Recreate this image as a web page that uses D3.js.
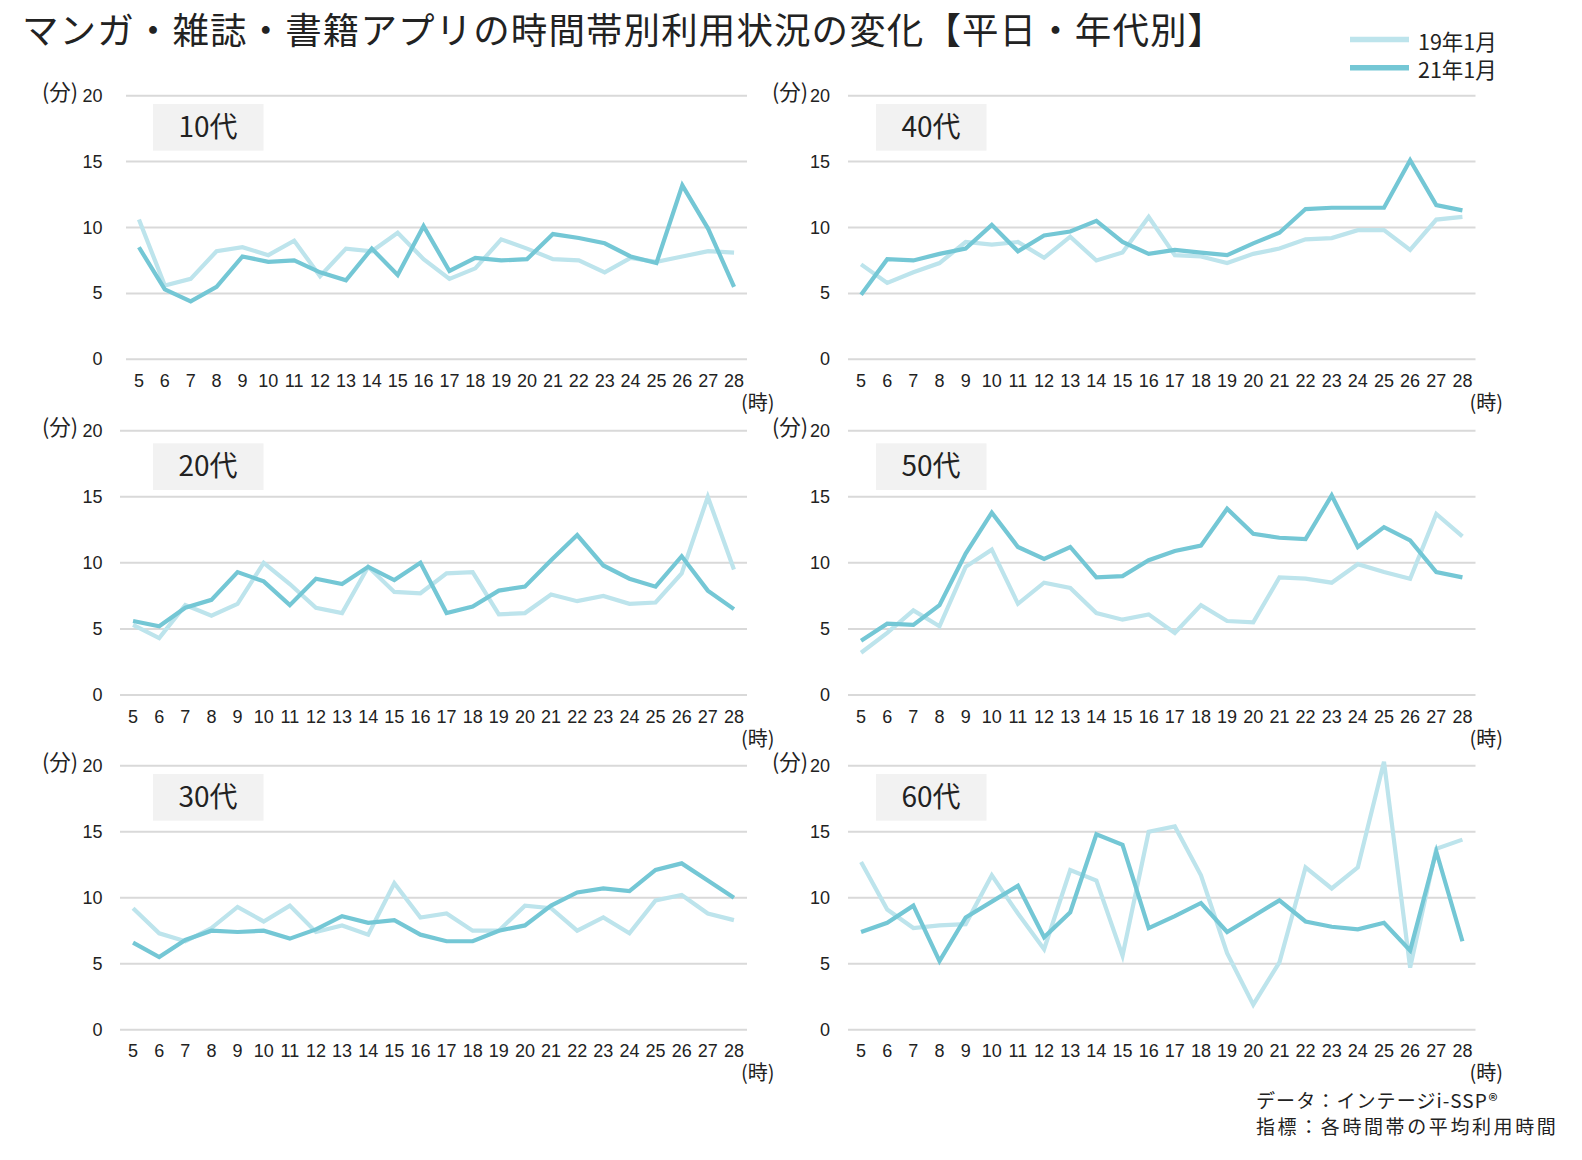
<!DOCTYPE html>
<html><head><meta charset="utf-8">
<script src="https://cdn.jsdelivr.net/npm/d3@7"></script>
<style>
html,body{margin:0;padding:0;background:#fff;}
svg{display:block;font-family:"Noto Sans CJK JP","Noto Sans",sans-serif;}
</style></head>
<body><svg id="chart" width="1582" height="1160"></svg>
<script>
// ---- data ----
const hours = [5,6,7,8,9,10,11,12,13,14,15,16,17,18,19,20,21,22,23,24,25,26,27,28];
const yTicks = [0,5,10,15,20];
const seriesNames = ["19年1月","21年1月"];
const ageLabels = ["10代","40代","20代","50代","30代","60代"];

const age10_19 = [10.6,5.6,6.1,8.2,8.5,7.9,9.0,6.3,8.4,8.2,9.6,7.6,6.1,6.9,9.1,8.4,7.6,7.5,6.6,7.7,7.4,7.8,8.2,8.1];
const age10_21 = [8.5,5.3,4.4,5.5,7.8,7.4,7.5,6.6,6.0,8.4,6.4,10.1,6.7,7.7,7.5,7.6,9.5,9.2,8.8,7.8,7.3,13.2,9.9,5.5];

const age40_19 = [7.2,5.8,6.6,7.3,8.9,8.7,8.9,7.7,9.3,7.5,8.1,10.8,7.9,7.8,7.3,8.0,8.4,9.1,9.2,9.8,9.8,8.3,10.6,10.8];
const age40_21 = [4.9,7.6,7.5,8.0,8.4,10.2,8.2,9.4,9.7,10.5,8.9,8.0,8.3,8.1,7.9,8.8,9.6,11.4,11.5,11.5,11.5,15.1,11.7,11.3];

const age20_19 = [5.3,4.3,6.8,6.0,6.9,10.0,8.4,6.6,6.2,9.7,7.8,7.7,9.2,9.3,6.1,6.2,7.6,7.1,7.5,6.9,7.0,9.2,15.0,9.5];
const age20_21 = [5.6,5.2,6.6,7.2,9.3,8.6,6.8,8.8,8.4,9.7,8.7,10.0,6.2,6.7,7.9,8.2,10.2,12.1,9.8,8.8,8.2,10.5,7.9,6.5];

const age50_19 = [3.2,4.7,6.4,5.2,9.7,11.0,6.9,8.5,8.1,6.2,5.7,6.1,4.7,6.8,5.6,5.5,8.9,8.8,8.5,9.9,9.3,8.8,13.7,12.0];
const age50_21 = [4.1,5.4,5.3,6.8,10.7,13.8,11.2,10.3,11.2,8.9,9.0,10.2,10.9,11.3,14.1,12.2,11.9,11.8,15.1,11.2,12.7,11.7,9.3,8.9];

const age30_19 = [9.2,7.3,6.7,7.7,9.3,8.2,9.4,7.4,7.9,7.2,11.1,8.5,8.8,7.5,7.5,9.4,9.2,7.5,8.5,7.3,9.8,10.2,8.8,8.3];
const age30_21 = [6.6,5.5,6.8,7.5,7.4,7.5,6.9,7.6,8.6,8.1,8.3,7.2,6.7,6.7,7.5,7.9,9.4,10.4,10.7,10.5,12.1,12.6,11.3,10.0];

const age60_19 = [12.7,9.1,7.7,7.9,8.0,11.7,8.8,6.1,12.1,11.3,5.6,15.0,15.4,11.7,5.8,1.9,5.1,12.3,10.7,12.3,20.3,4.7,13.7,14.4];
const age60_21 = [7.4,8.1,9.4,5.2,8.5,9.7,10.9,7.0,8.9,14.8,14.0,7.7,8.6,9.6,7.4,8.6,9.8,8.2,7.8,7.6,8.1,6.0,13.5,6.7];

const series19 = [age10_19, age40_19, age20_19, age50_19, age30_19, age60_19];
const series21 = [age10_21, age40_21, age20_21, age50_21, age30_21, age60_21];

// ---- layout / style ----
const colLight = "#bde4ec", colDark = "#74c7d5";
const gridColor = "#d9d9d9", textColor = "#222";
const numFont = "'Liberation Sans', Arial, sans-serif";
const layout = [
  {left:126, right:747, top:95.7, bottom:359.3, tickX:102.5, unitX:42, boxX:153, boxY:104},
  {left:848, right:1475.5, top:95.7, bottom:359.3, tickX:830, unitX:772, boxX:876, boxY:104},
  {left:120, right:747, top:430.7, bottom:695, tickX:102.5, unitX:42, boxX:153, boxY:443.3},
  {left:848, right:1475.5, top:430.7, bottom:695, tickX:830, unitX:772, boxX:876, boxY:443.3},
  {left:120, right:747, top:765.7, bottom:1029.7, tickX:102.5, unitX:42, boxX:153, boxY:774},
  {left:848, right:1475.5, top:765.7, bottom:1029.7, tickX:830, unitX:772, boxX:876, boxY:774}
];

const svg = d3.select("#chart");

// title
svg.append("text").attr("x", 22).attr("y", 28.5).attr("dominant-baseline","central")
  .attr("font-size", 36.5).attr("letter-spacing", 1.1).attr("fill", "#222")
  .text("マンガ・雑誌・書籍アプリの時間帯別利用状況の変化【平日・年代別】");

// legend
const legend = svg.append("g");
[colLight, colDark].forEach((c, i) => {
  const y = 39.5 + i * 28.3;
  legend.append("line").attr("x1", 1350).attr("x2", 1409).attr("y1", y).attr("y2", y)
    .attr("stroke", c).attr("stroke-width", 5.5);
  legend.append("text").attr("x", 1418).attr("y", y + 1).attr("dominant-baseline","central")
    .attr("font-size", 21.5).attr("fill", "#222").text(seriesNames[i]);
});

layout.forEach((L, i) => {
  const g = svg.append("g");
  const x = d3.scaleBand().domain(hours).range([L.left, L.right]);
  const y = d3.scaleLinear().domain([0, 20]).range([L.bottom, L.top]);

  // gridlines
  g.selectAll("line.grid").data(yTicks).enter().append("line")
    .attr("x1", L.left).attr("x2", L.right)
    .attr("y1", d => y(d)).attr("y2", d => y(d))
    .attr("stroke", gridColor).attr("stroke-width", 2);

  // y tick labels
  g.selectAll("text.yt").data(yTicks).enter().append("text")
    .attr("x", L.tickX).attr("y", d => y(d)).attr("text-anchor","end")
    .attr("dominant-baseline","central").attr("font-size", 18).attr("font-family", numFont)
    .attr("fill", textColor).text(d => d);

  // unit label
  g.append("text").attr("x", L.unitX).attr("y", L.top - 5).attr("dominant-baseline","central")
    .attr("font-size", 21.5).attr("fill", textColor).text("(分)");

  // x tick labels
  g.selectAll("text.xt").data(hours).enter().append("text")
    .attr("x", d => x(d) + x.bandwidth()/2).attr("y", L.bottom + 21.5)
    .attr("text-anchor","middle").attr("dominant-baseline","central")
    .attr("font-size", 18).attr("font-family", numFont).attr("fill", textColor).text(d => d);

  // x unit label
  g.append("text").attr("x", L.right - 6).attr("y", L.bottom + 42).attr("dominant-baseline","central")
    .attr("font-size", 20).attr("fill", textColor).text("(時)");

  // label box
  g.append("rect").attr("x", L.boxX).attr("y", L.boxY).attr("width", 110.5).attr("height", 46.7)
    .attr("fill", "#f2f2f2");
  g.append("text").attr("x", L.boxX + 55).attr("y", L.boxY + 20.5)
    .attr("text-anchor","middle").attr("dominant-baseline","central")
    .attr("font-size", 28).attr("fill", "#222").text(ageLabels[i]);

  const line = d3.line().x((d, j) => x(hours[j]) + x.bandwidth()/2).y(d => y(d));
  g.append("path").datum(series19[i]).attr("d", line).attr("fill","none")
    .attr("stroke", colLight).attr("stroke-width", 4.2).attr("stroke-linejoin","miter");
  g.append("path").datum(series21[i]).attr("d", line).attr("fill","none")
    .attr("stroke", colDark).attr("stroke-width", 4.2).attr("stroke-linejoin","miter");
});

// footer
svg.append("text").attr("x", 1256).attr("y", 1099).attr("dominant-baseline","central")
  .attr("font-size", 19).attr("fill", "#222").attr("letter-spacing", 1.1).text("データ：インテージi-SSP®");
svg.append("text").attr("x", 1256).attr("y", 1125).attr("dominant-baseline","central")
  .attr("font-size", 19).attr("fill", "#222").attr("letter-spacing", 2.6).text("指標：各時間帯の平均利用時間");
</script></body></html>
